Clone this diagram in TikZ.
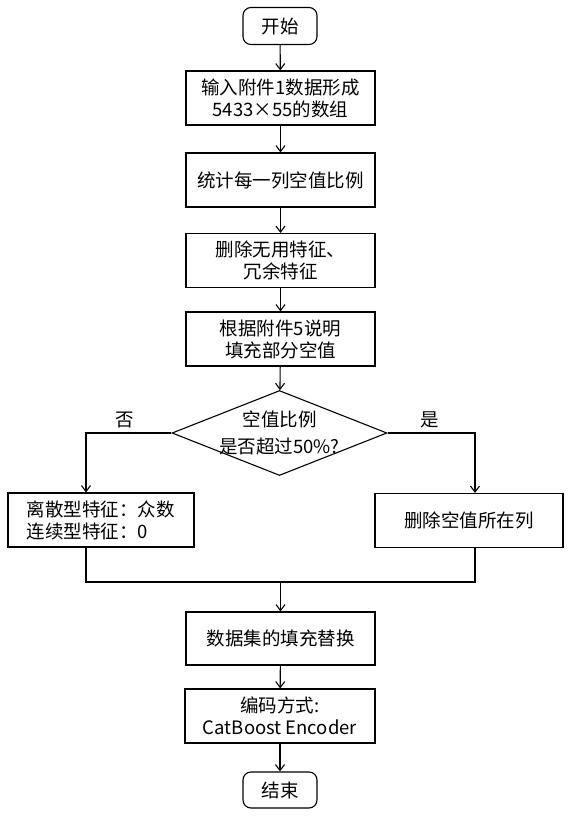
\documentclass[tikz,border=0pt]{standalone}
\usepackage{fontspec}
\setmainfont{Noto Sans CJK SC}
\usetikzlibrary{arrows.meta,shapes.geometric}

\begin{document}
\begin{tikzpicture}[x=1pt, y=-1pt, line width=1.1pt,
  >={Straight Barb[length=6pt,width=9pt]},
  every node/.style={font=\fontsize{18.5}{22}\selectfont, inner sep=0pt},
  term/.style={draw, rounded corners=8pt, minimum width=74pt, minimum height=37pt},
  box/.style={draw, align=center, minimum width=189pt, minimum height=54pt},
  decision/.style={draw, diamond, aspect=2.53, inner sep=-6pt, align=center,
    minimum width=215pt, minimum height=85pt, font=\fontsize{18.5}{27}\selectfont}]
\useasboundingbox (0,0) rectangle (572,817);
\node[term] (start) at (280,26) {开始};
\node[box] (input) at (280.5,98) {输入附件1数据形成\\5433×55的数组};
\node[box] (count) at (280.5,180) {统计每一列空值比例};
\node[box] (drop) at (280.5,260.5) {删除无用特征、\\冗余特征};
\node[box] (fillpart) at (280.5,339) {根据附件5说明\\填充部分空值};
\node[decision] (ratio) at (279.5,433) {空值比例\\是否超过50\%?};
\node[box, align=left, minimum width=186pt] (fillmode) at (101,520) {离散型特征：众数\\连续型特征：0};
\node[box, minimum width=188pt] (dropcol) at (469,520.5) {删除空值所在列};
\node[box, minimum height=53pt] (replace) at (280.5,638.5) {数据集的填充替换};
\node[box, minimum width=190pt] (encode) at (280,716) {编码方式:\\CatBoost Encoder};
\node[term, minimum height=36pt] (end) at (280,790) {结束};
\node (no) at (125,420) {否};
\node (yes) at (430,420) {是};
\coordinate (merge) at (280.5,582);
\draw[->] (start) -- (input);
\draw[->] (input) -- (count);
\draw[->] (count) -- (drop);
\draw[->] (drop) -- (fillpart);
\draw[->] (fillpart) -- (ratio);
\draw[->] (ratio.west) -| ([xshift=-15pt]fillmode.north);
\draw[->] (ratio.east) -| ([xshift=6pt]dropcol.north);
\draw ([xshift=-15pt]fillmode.south) |- (merge) -| ([xshift=6pt]dropcol.south);
\draw[->] (merge) -- (replace);
\draw[->] (replace) -- (encode);
\draw[->] (encode) -- (end);
\end{tikzpicture}
\end{document}
